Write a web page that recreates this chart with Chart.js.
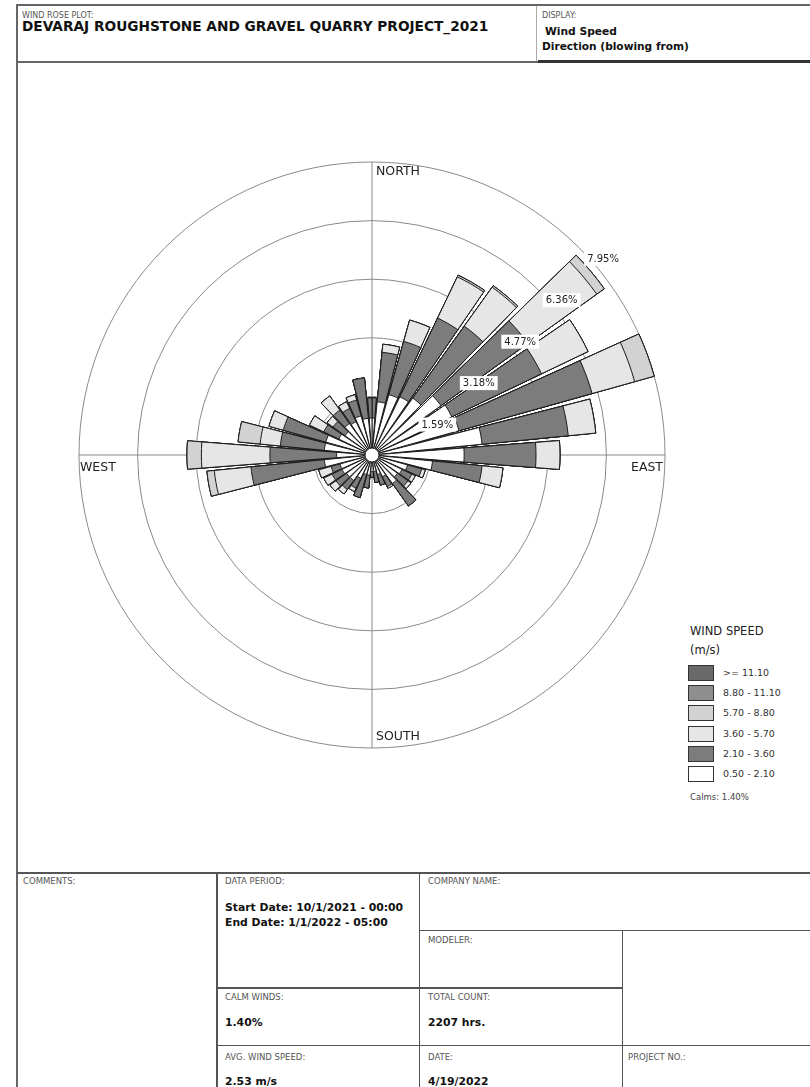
<!DOCTYPE html>
<html>
<head>
<meta charset="utf-8">
<title>Wind Rose</title>
<script src="https://cdn.jsdelivr.net/npm/chart.js@4.4.1/dist/chart.umd.min.js"></script>
<style>
  body { margin: 0; background: #fff; font-family: "DejaVu Sans", sans-serif; color: #111; }
  #page { position: relative; width: 810px; height: 1087px; overflow: hidden; }
  .t { position: absolute; white-space: nowrap; line-height: 1; }
  .lab { font-size: 8.5px; color: #555; }
  .val { font-size: 10.8px; font-weight: bold; color: #111; }
  .ln { position: absolute; background: #555; }
  #rose { position: absolute; left: 72px; top: 155px; }
  .sw { position: absolute; width: 24px; height: 14px; border: 1px solid #333; }
</style>
</head>
<body>
<div id="page">
  <!-- frame -->
  <div class="ln" style="left:16px;top:4px;width:794px;height:2px;background:#666"></div>
  <div class="ln" style="left:16px;top:4px;width:2px;height:1083px;background:#666"></div>
  <div class="ln" style="left:17px;top:61px;width:521px;height:2px;background:#666"></div>
  <div class="ln" style="left:538px;top:60px;width:272px;height:3px;background:#333"></div>
  <div class="ln" style="left:536px;top:6px;width:1px;height:55px;background:#aaa"></div>

  <div class="t lab" style="left:22px;top:12px;font-size:8px">WIND ROSE PLOT:</div>
  <div class="t" style="left:22px;top:19.5px;font-size:13.7px;font-weight:bold">DEVARAJ ROUGHSTONE AND GRAVEL QUARRY PROJECT_2021</div>
  <div class="t lab" style="left:542px;top:12px;font-size:8px">DISPLAY:</div>
  <div class="t val" style="left:545px;top:26.8px;font-size:10.7px">Wind Speed</div>
  <div class="t val" style="left:542px;top:40.8px;font-size:10.6px">Direction (blowing from)</div>

  <canvas id="rose" width="600" height="600"></canvas>

  <div id="legend"></div>

  <!-- bottom table -->
  <div class="ln" style="left:17px;top:872px;width:793px;height:2px"></div>
  <div class="ln" style="left:216px;top:873px;width:1.5px;height:214px"></div>
  <div class="ln" style="left:418.5px;top:873px;width:1.5px;height:214px"></div>
  <div class="ln" style="left:621.5px;top:930px;width:1.5px;height:157px"></div>
  <div class="ln" style="left:419px;top:929.5px;width:391px;height:1.5px"></div>
  <div class="ln" style="left:217px;top:987px;width:405px;height:1.5px"></div>
  <div class="ln" style="left:217px;top:1044.5px;width:593px;height:1.5px"></div>

  <div class="t lab" style="left:23px;top:876.5px">COMMENTS:</div>
  <div class="t lab" style="left:225px;top:876.5px">DATA PERIOD:</div>
  <div class="t val" style="left:225px;top:902.8px">Start Date: 10/1/2021 - 00:00</div>
  <div class="t val" style="left:225px;top:917.8px">End Date: 1/1/2022 - 05:00</div>
  <div class="t lab" style="left:428px;top:876.5px">COMPANY NAME:</div>
  <div class="t lab" style="left:428px;top:935.8px">MODELER:</div>
  <div class="t lab" style="left:225px;top:992.6px">CALM WINDS:</div>
  <div class="t val" style="left:225px;top:1017.8px">1.40%</div>
  <div class="t lab" style="left:428px;top:992.6px">TOTAL COUNT:</div>
  <div class="t val" style="left:428px;top:1017.8px">2207 hrs.</div>
  <div class="t lab" style="left:225px;top:1052.6px">AVG. WIND SPEED:</div>
  <div class="t val" style="left:225px;top:1076.5px">2.53 m/s</div>
  <div class="t lab" style="left:428px;top:1052.6px">DATE:</div>
  <div class="t val" style="left:428px;top:1076.5px">4/19/2022</div>
  <div class="t lab" style="left:628px;top:1052.6px">PROJECT NO.:</div>
</div>

<script>
// directions the wind blows from, degrees clockwise from north
const directions = [0, 10, 20, 30, 40, 50, 60, 70, 80, 90, 100, 110, 120, 130, 140, 150, 160, 170,
                    180, 190, 200, 210, 220, 230, 240, 250, 260, 270, 280, 290, 300, 310, 320, 330, 340, 350];

// wind speed classes (m/s), lowest first
const speedBins = ['0.50 - 2.10', '2.10 - 3.60', '3.60 - 5.70', '5.70 - 8.80', '8.80 - 11.10', '>= 11.10'];

// frequency (%) per direction for each speed class
const freq050to210 = [1.00, 1.45, 1.70, 1.75, 1.90, 2.30, 2.40, 2.45, 3.00, 2.50, 1.65, 1.00, 0.90, 0.85, 0.95, 0.65, 0.55, 0.45,
                      0.45, 0.55, 0.55, 0.70, 0.85, 0.85, 0.90, 0.90, 1.30, 0.96, 1.30, 1.30, 1.00, 0.90, 1.05, 1.00, 1.10, 1.00];
const freq210to360 = [0.55, 1.35, 1.50, 2.37, 2.40, 2.90, 2.70, 3.75, 2.35, 1.95, 1.35, 0.40, 0.30, 0.35, 0.75, 0.30, 0.30, 0.30,
                      0.15, 0.35, 0.65, 0.30, 0.30, 0.35, 0.30, 0.25, 2.00, 1.81, 1.20, 1.20, 0.45, 0.40, 0.45, 0.40, 0.45, 1.10];
const freq360to570 = [0.00, 0.22, 0.60, 1.24, 1.30, 2.30, 1.40, 1.20, 0.75, 0.65, 0.57, 0.10, 0.10, 0.10, 0.00, 0.05, 0.00, 0.00,
                      0.00, 0.00, 0.00, 0.10, 0.15, 0.20, 0.25, 0.35, 1.00, 1.86, 0.55, 0.40, 0.43, 0.20, 0.47, 0.20, 0.15, 0.00];
const freq570to880 = [0.00, 0.00, 0.00, 0.05, 0.05, 0.25, 0.00, 0.55, 0.00, 0.00, 0.00, 0.00, 0.00, 0.00, 0.00, 0.00, 0.00, 0.00,
                      0.00, 0.00, 0.00, 0.00, 0.00, 0.00, 0.00, 0.00, 0.20, 0.39, 0.60, 0.00, 0.00, 0.00, 0.00, 0.00, 0.00, 0.00];
const freq880to1110 = [0, 0, 0, 0, 0, 0, 0, 0, 0, 0, 0, 0, 0, 0, 0, 0, 0, 0,
                       0, 0, 0, 0, 0, 0, 0, 0, 0, 0, 0, 0, 0, 0, 0, 0, 0, 0];
const freq1110up = [0, 0, 0, 0, 0, 0, 0, 0, 0, 0, 0, 0, 0, 0, 0, 0, 0, 0,
                    0, 0, 0, 0, 0, 0, 0, 0, 0, 0, 0, 0, 0, 0, 0, 0, 0, 0];

// ring values (%) and compass labels
const ringTicks = [0, 1.59, 3.18, 4.77, 6.36, 7.95];
const compassLabels = ['NORTH', 'EAST', 'SOUTH', 'WEST'];
const calmPercent = 1.40;

const binColors = ['#ffffff', '#7c7c7c', '#e6e6e6', '#d2d2d2', '#8e8e8e', '#6a6a6a'];
const BAR_DEG = 8.8;              // width of one direction bar
const GAP_DEG = 10 - BAR_DEG;     // white gap between bars

// north bar is split in two halves so the arcs can start at 0 deg,
// with a zero gap slot between every pair of bars
function toSlots(values) {
  const out = [values[0]];
  for (let k = 1; k < values.length; k++) out.push(0, values[k]);
  out.push(0, values[0]);
  return out;
}
const slotCount = directions.length * 2 + 1;
function slotAngle(i) {
  if (i === 0 || i === slotCount - 1) return BAR_DEG / 2;
  return i % 2 ? GAP_DEG : BAR_DEG;
}

// stacked look: each dataset is the running total, smallest on top
const bins = [freq050to210, freq210to360, freq360to570, freq570to880, freq880to1110, freq1110up];
const running = directions.map(() => 0);
const datasets = bins.map((b, bi) => {
  b.forEach((v, d) => { running[d] += v; });
  return {
    label: speedBins[bi],
    data: toSlots(running.map(v => +v.toFixed(3))),
    backgroundColor: binColors[bi],
    borderColor: '#1b1b1b',
    borderWidth: ctx => (ctx.dataIndex % 2 && ctx.dataIndex !== slotCount - 1) ? 0 : 1,
    angle: ctx => slotAngle(ctx.dataIndex)
  };
});

const rad = deg => deg * Math.PI / 180;

const roseExtras = {
  id: 'roseExtras',
  afterDatasetsDraw(chart) {
    const r = chart.scales.r;
    const ctx = chart.ctx;
    ctx.save();

    // calm circle in the middle
    ctx.beginPath();
    ctx.arc(r.xCenter, r.yCenter, 7, 0, Math.PI * 2);
    ctx.fillStyle = '#fff';
    ctx.fill();
    ctx.lineWidth = 1;
    ctx.strokeStyle = '#222';
    ctx.stroke();

    // ring percentages along the north-east diagonal
    ctx.font = '10px "DejaVu Sans"';
    ctx.textBaseline = 'middle';
    const a = rad(45) - Math.PI / 2;
    ringTicks.slice(1).forEach(v => {
      const d = r.getDistanceFromCenterForValue(v);
      const x = r.xCenter + Math.cos(a) * d;
      const y = r.yCenter + Math.sin(a) * d;
      const txt = v.toFixed(2) + '%';
      const w = ctx.measureText(txt).width;
      ctx.fillStyle = '#fff';
      ctx.fillRect(x + 5, y + 4, w + 6, 14);
      ctx.fillStyle = '#222';
      ctx.fillText(txt, x + 8, y + 11.5);
    });

    // compass names just inside the outer ring
    ctx.font = '12.5px "DejaVu Sans"';
    ctx.fillStyle = '#222';
    const R = r.drawingArea;
    compassLabels.forEach((name, i) => {
      const p = r.getPointPosition(i, R);
      if (i === 0) { ctx.textAlign = 'left'; ctx.textBaseline = 'top'; ctx.fillText(name, p.x + 4, p.y + 3); }
      if (i === 1) { ctx.textAlign = 'right'; ctx.textBaseline = 'top'; ctx.fillText(name, p.x - 2, p.y + 6); }
      if (i === 2) { ctx.textAlign = 'left'; ctx.textBaseline = 'bottom'; ctx.fillText(name, p.x + 4, p.y - 5); }
      if (i === 3) { ctx.textAlign = 'left'; ctx.textBaseline = 'top'; ctx.fillText(name, p.x + 1, p.y + 6); }
    });
    ctx.restore();
  }
};

new Chart(document.getElementById('rose'), {
  type: 'polarArea',
  data: { labels: compassLabels, datasets },
  options: {
    responsive: false,
    animation: false,
    events: [],
    layout: { padding: 7 },
    plugins: { legend: { display: false }, tooltip: { enabled: false } },
    scales: {
      r: {
        min: 0,
        max: ringTicks[ringTicks.length - 1],
        startAngle: 0,
        afterBuildTicks: s => { s.ticks = ringTicks.map(v => ({ value: v })); },
        ticks: { display: false },
        grid: { circular: true, color: '#8a8a8a', lineWidth: 1 },
        angleLines: { display: true, color: '#8a8a8a', lineWidth: 1 },
        pointLabels: { display: false }
      }
    }
  },
  plugins: [roseExtras]
});

// legend, highest speed class on top
const legend = document.getElementById('legend');
let html = '<div class="t" style="left:690px;top:625.5px;font-size:11.5px;color:#222">WIND SPEED</div>' +
           '<div class="t" style="left:690px;top:645px;font-size:11.5px;color:#222">(m/s)</div>';
speedBins.slice().reverse().forEach((name, i) => {
  const top = 665 + i * 20.2;
  const color = binColors[speedBins.length - 1 - i];
  html += '<div class="sw" style="left:688px;top:' + top + 'px;background:' + color + '"></div>' +
          '<div class="t" style="left:723px;top:' + (top + 3) + 'px;font-size:9.5px;color:#333">' + name + '</div>';
});
html += '<div class="t" style="left:690px;top:793px;font-size:8.5px;color:#444">Calms: ' + calmPercent.toFixed(2) + '%</div>';
legend.innerHTML = html;
</script>
</body>
</html>
